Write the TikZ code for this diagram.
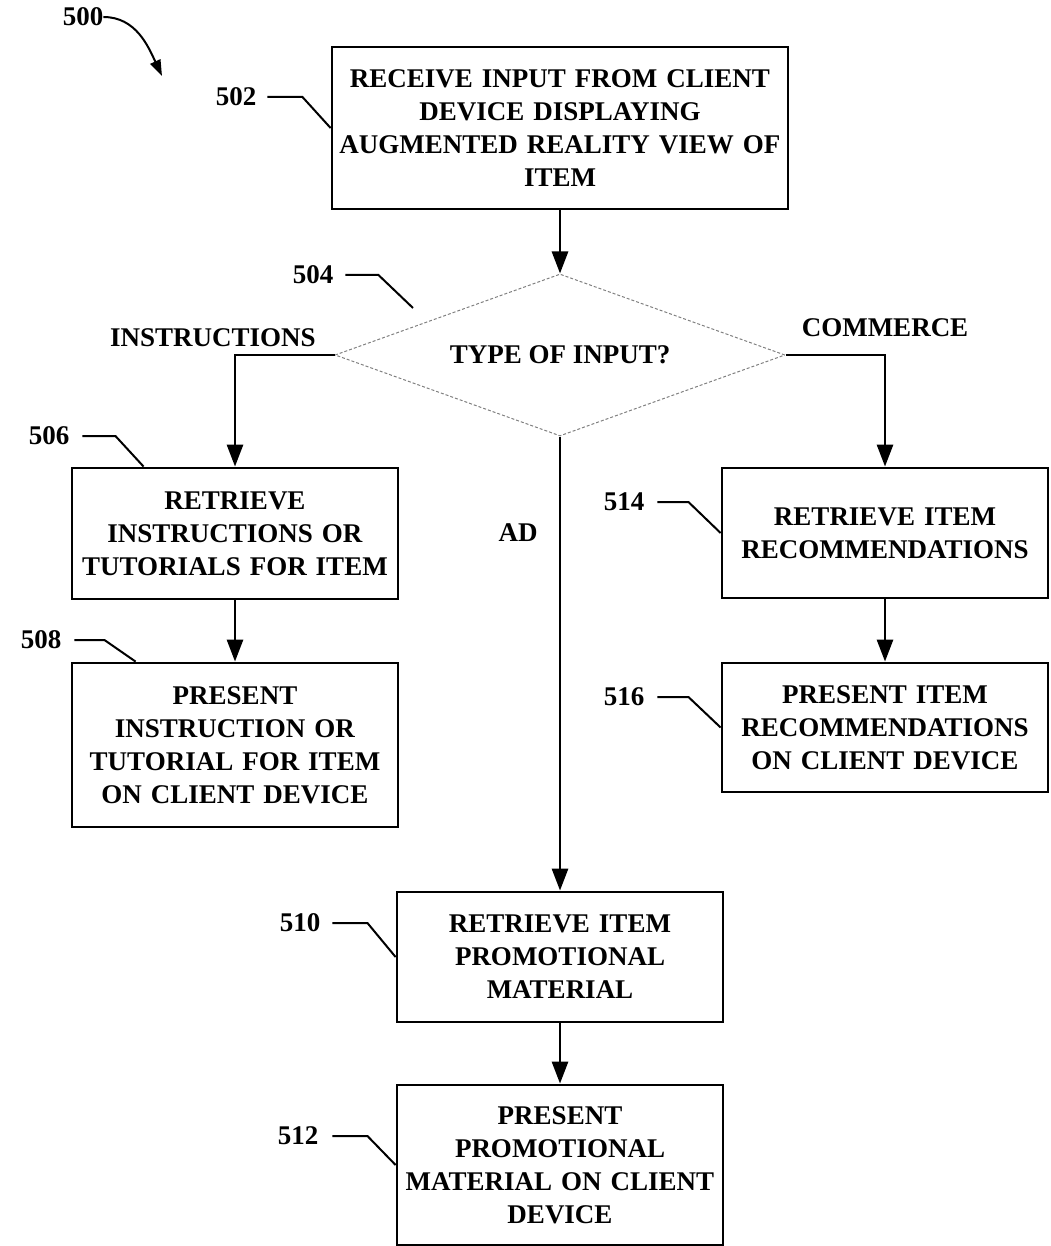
\documentclass[tikz,border=0pt]{standalone}
\usepackage{fontspec}
\setmainfont{Liberation Serif}
\usetikzlibrary{arrows.meta,shapes.geometric}

\begin{document}
\begin{tikzpicture}[x=1pt,y=-1pt,
  font=\bfseries\fontsize{27}{33}\selectfont,
  box/.style={draw,line width=2.8pt,minimum width=326pt,text width=318pt,align=center,inner sep=0pt},
  flow/.style={line width=2.8pt,-{Triangle[length=22pt,width=16pt]}},
  leader/.style={line width=2pt},
  refnum/.style={inner sep=0pt}]
\useasboundingbox (0,0) rectangle (1050,1246);
\node [box,minimum width=456pt,text width=450pt,minimum height=162pt] (recv) at (560,128) {RECEIVE INPUT FROM CLIENT\\ DEVICE DISPLAYING\\ AUGMENTED REALITY VIEW OF\\ ITEM};
\node [diamond,draw=gray,line width=1pt,dash pattern=on 3pt off 2pt,aspect=2.78,minimum width=450pt,minimum height=162pt,inner sep=0pt] (type) at (560,355) {TYPE OF INPUT?};
\node [box,minimum height=131pt] (instr) at (235,533.5) {RETRIEVE\\ INSTRUCTIONS OR\\ TUTORIALS FOR ITEM};
\node [box,minimum height=164pt] (presinst) at (235,745) {PRESENT\\ INSTRUCTION OR\\ TUTORIAL FOR ITEM\\ ON CLIENT DEVICE};
\node [box,minimum height=130pt] (recs) at (885,533) {RETRIEVE ITEM\\ RECOMMENDATIONS};
\node [box,minimum height=129pt] (presrecs) at (885,727.5) {PRESENT ITEM\\ RECOMMENDATIONS\\ ON CLIENT DEVICE};
\node [box,minimum height=130pt] (promo) at (560,957) {RETRIEVE ITEM\\ PROMOTIONAL\\ MATERIAL};
\node [box,minimum height=160pt] (prespromo) at (560,1165) {PRESENT\\ PROMOTIONAL\\ MATERIAL ON CLIENT\\ DEVICE};
% branch names
\node [refnum] (instrlbl) at (213,338) {INSTRUCTIONS};
\node [refnum] (commlbl) at (885,328) {COMMERCE};
\node [refnum] (adlbl) at (518,533) {AD};
% flow
\draw [flow] (recv.south) -- (type.north);
\draw [flow] (type.west) -| (instr.north);
\draw [flow] (type.east) -| (recs.north);
\draw [flow] (type.south) -- (promo.north);
\draw [flow] (instr.south) -- (presinst.north);
\draw [flow] (recs.south) -- (presrecs.north);
\draw [flow] (promo.south) -- (prespromo.north);
% reference numerals
\node [refnum] (n500) at (83,17) {500};
\coordinate (e500) at (162,76);
\draw [line width=2pt,-{Triangle[length=16pt,width=11pt]}] (n500.east) to[out=0,in=115] (e500);
\node [refnum] (n502) at (236,97) {502};
\draw [leader] ([xshift=11pt]n502.east) -- ++(35,0) -- (recv.west);
\node [refnum] (n504) at (313,275) {504};
\coordinate (e504) at (413,308);
\draw [leader] ([xshift=12pt]n504.east) -- ++(33,0) -- (e504);
\node [refnum] (n506) at (49,436) {506};
\draw [leader] ([xshift=13pt]n506.east) -- ++(33,0) -- ([xshift=73pt]instr.north west);
\node [refnum] (n508) at (41,640) {508};
\draw [leader] ([xshift=13pt]n508.east) -- ++(30,0) -- ([xshift=65pt]presinst.north west);
\node [refnum] (n514) at (624,502) {514};
\draw [leader] ([xshift=13pt]n514.east) -- ++(31,0) -- (recs.west);
\node [refnum] (n516) at (624,697) {516};
\draw [leader] ([xshift=13pt]n516.east) -- ++(31,0) -- (presrecs.west);
\node [refnum] (n510) at (300,923) {510};
\draw [leader] ([xshift=12pt]n510.east) -- ++(35,0) -- (promo.west);
\node [refnum] (n512) at (298,1136) {512};
\draw [leader] ([xshift=14pt]n512.east) -- ++(35,0) -- (prespromo.west);
\end{tikzpicture}
\end{document}
